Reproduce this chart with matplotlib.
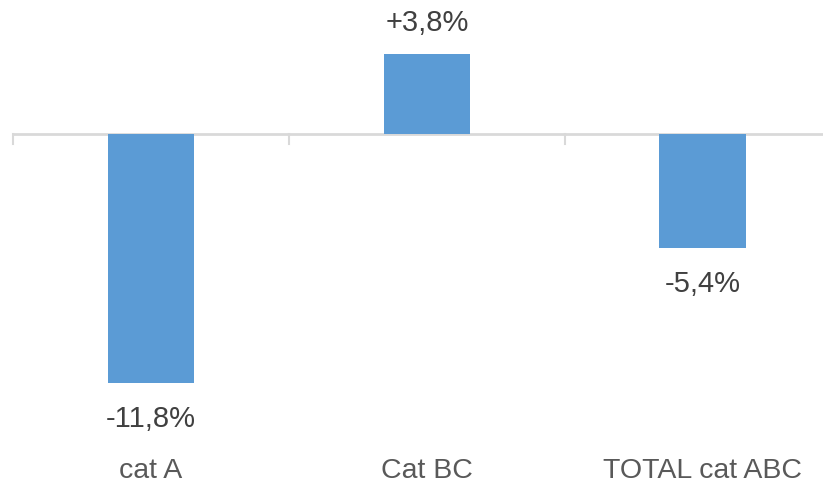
import matplotlib
matplotlib.use("Agg")
import matplotlib.pyplot as plt

categories = ["cat A", "Cat BC", "TOTAL cat ABC"]
values = [-11.8, 3.8, -5.4]
labels = ["-11,8%", "+3,8%", "-5,4%"]

fig = plt.figure(figsize=(8.23, 4.88), dpi=100)
ax = fig.add_axes([13/823, 0, 1 - 13/823, 1])
ppu = 21.1
ytop = 134 / ppu
ybot = -(488 - 134) / ppu
ax.set_ylim(ybot, ytop)
ax.set_xlim(-0.5, 2.435)

x = list(range(len(categories)))
ax.bar(x, values, width=0.315, color="#5B9BD5", zorder=2)

ax.axhline(0, color="#D9D9D9", lw=2, zorder=1)
for b in [-0.5, 0.5, 1.5, 2.5]:
    ax.plot([b, b], [0, -10 / ppu], color="#D9D9D9", lw=1.5, zorder=1, clip_on=False)

font = "Liberation Sans"
for xi, v, lab in zip(x, values, labels):
    if v >= 0:
        y = v + 31 / ppu
    else:
        y = v - 36 / ppu
    ax.text(xi, y, lab, ha="center", va="center", fontsize=21, color="#404040", family=font)

for xi, c in zip(x, categories):
    ax.text(xi, -(471 - 134) / ppu, c, ha="center", va="center", fontsize=20.5, color="#595959", family=font)

ax.axis("off")
fig.savefig("out.png", dpi=100)
